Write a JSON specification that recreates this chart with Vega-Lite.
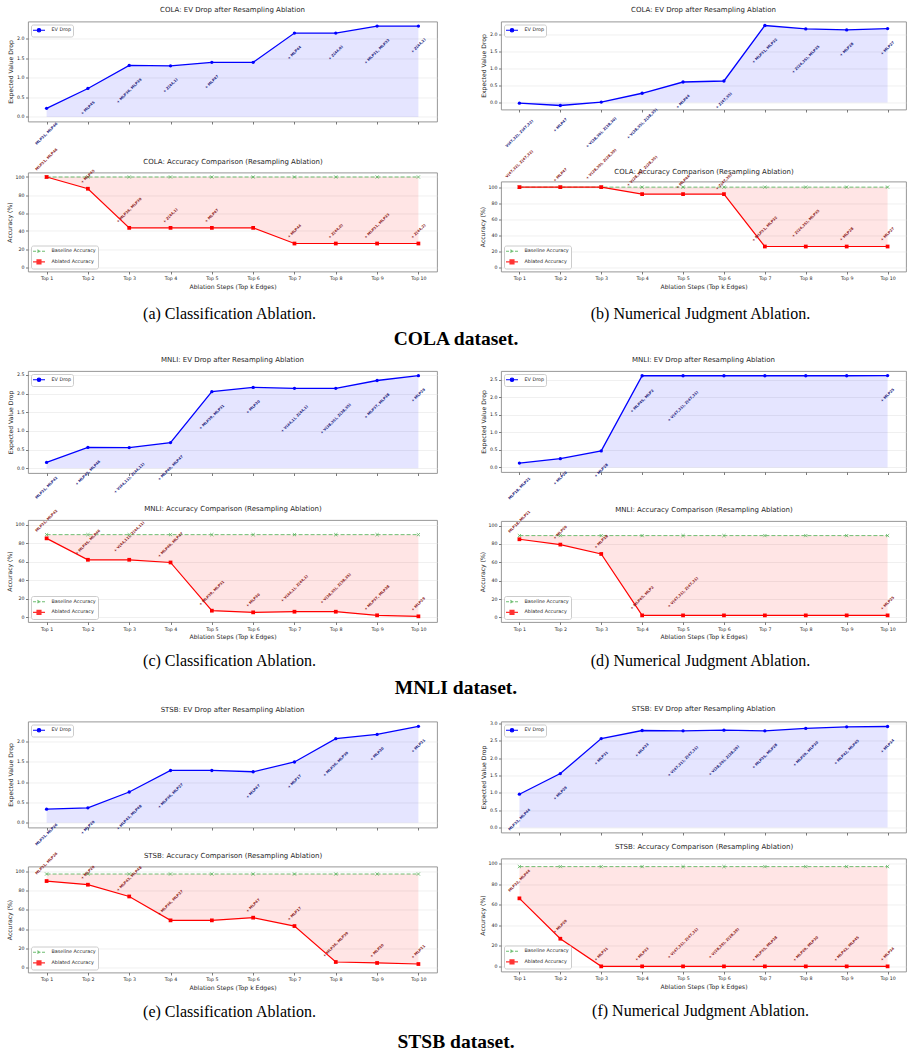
{
  "$schema": "https://vega.github.io/schema/vega-lite/v6.json",
  "background": "white",
  "padding": {"left": 5, "top": 5.5, "right": 2, "bottom": 2},
  "datasets": {
    "ablation": [
      {"d": "COLA", "t": "cls", "step": 1, "ev": 0.22, "acc": 100, "base": 100, "edge": "MLP31, MLP46"},
      {"d": "COLA", "t": "cls", "step": 2, "ev": 0.73, "acc": 86.96, "base": 100, "edge": "+ MLP45"},
      {"d": "COLA", "t": "cls", "step": 3, "ev": 1.32, "acc": 43.48, "base": 100, "edge": "+ MLP36, MLP39"},
      {"d": "COLA", "t": "cls", "step": 4, "ev": 1.31, "acc": 43.48, "base": 100, "edge": "+ Z(44,1)"},
      {"d": "COLA", "t": "cls", "step": 5, "ev": 1.4, "acc": 43.48, "base": 100, "edge": "+ MLP47"},
      {"d": "COLA", "t": "cls", "step": 6, "ev": 1.4, "acc": 43.48, "base": 100, "edge": ""},
      {"d": "COLA", "t": "cls", "step": 7, "ev": 2.15, "acc": 26.09, "base": 100, "edge": "+ MLP44"},
      {"d": "COLA", "t": "cls", "step": 8, "ev": 2.15, "acc": 26.09, "base": 100, "edge": "+ Z(44,0)"},
      {"d": "COLA", "t": "cls", "step": 9, "ev": 2.33, "acc": 26.09, "base": 100, "edge": "+ MLP31, MLP33"},
      {"d": "COLA", "t": "cls", "step": 10, "ev": 2.33, "acc": 26.09, "base": 100, "edge": "+ Z(44,2)"},
      {"d": "COLA", "t": "num", "step": 1, "ev": -0.02, "acc": 100, "base": 100, "edge": "V(47,32), Z(47,32)"},
      {"d": "COLA", "t": "num", "step": 2, "ev": -0.09, "acc": 100, "base": 100, "edge": "+ MLP47"},
      {"d": "COLA", "t": "num", "step": 3, "ev": 0.01, "acc": 100, "base": 100, "edge": "+ V(28,30), Z(28,30)"},
      {"d": "COLA", "t": "num", "step": 4, "ev": 0.27, "acc": 91.3, "base": 100, "edge": "+ V(28,35), Z(28,35)"},
      {"d": "COLA", "t": "num", "step": 5, "ev": 0.6, "acc": 91.3, "base": 100, "edge": "+ MLP44"},
      {"d": "COLA", "t": "num", "step": 6, "ev": 0.63, "acc": 91.3, "base": 100, "edge": "+ Z(47,35)"},
      {"d": "COLA", "t": "num", "step": 7, "ev": 2.26, "acc": 26.09, "base": 100, "edge": "+ MLP31, MLP32"},
      {"d": "COLA", "t": "num", "step": 8, "ev": 2.16, "acc": 26.09, "base": 100, "edge": "+ Z(24,35), MLP35"},
      {"d": "COLA", "t": "num", "step": 9, "ev": 2.13, "acc": 26.09, "base": 100, "edge": "+ MLP28"},
      {"d": "COLA", "t": "num", "step": 10, "ev": 2.17, "acc": 26.09, "base": 100, "edge": "+ MLP27"},
      {"d": "MNLI", "t": "cls", "step": 1, "ev": 0.16, "acc": 85.2, "base": 89.2, "edge": "MLP31, MLP42"},
      {"d": "MNLI", "t": "cls", "step": 2, "ev": 0.56, "acc": 62.1, "base": 89.2, "edge": "+ MLP45, MLP46"},
      {"d": "MNLI", "t": "cls", "step": 3, "ev": 0.555, "acc": 62.1, "base": 89.2, "edge": "+ V(44,11), Z(44,11)"},
      {"d": "MNLI", "t": "cls", "step": 4, "ev": 0.69, "acc": 59.2, "base": 89.2, "edge": "+ MLP40, MLP47"},
      {"d": "MNLI", "t": "cls", "step": 5, "ev": 2.05, "acc": 7.2, "base": 89.2, "edge": "+ MLP39, MLP31"},
      {"d": "MNLI", "t": "cls", "step": 6, "ev": 2.165, "acc": 5.4, "base": 89.2, "edge": "+ MLP30"},
      {"d": "MNLI", "t": "cls", "step": 7, "ev": 2.14, "acc": 6.1, "base": 89.2, "edge": "+ V(44,1), Z(44,1)"},
      {"d": "MNLI", "t": "cls", "step": 8, "ev": 2.14, "acc": 6.1, "base": 89.2, "edge": "+ V(38,35), Z(38,35)"},
      {"d": "MNLI", "t": "cls", "step": 9, "ev": 2.35, "acc": 2.2, "base": 89.2, "edge": "+ MLP37, MLP38"},
      {"d": "MNLI", "t": "cls", "step": 10, "ev": 2.48, "acc": 1.1, "base": 89.2, "edge": "+ MLP29"},
      {"d": "MNLI", "t": "num", "step": 1, "ev": 0.124, "acc": 85.1, "base": 89.1, "edge": "MLP18, MLP21"},
      {"d": "MNLI", "t": "num", "step": 2, "ev": 0.25, "acc": 79.3, "base": 89.1, "edge": "+ MLP20"},
      {"d": "MNLI", "t": "num", "step": 3, "ev": 0.47, "acc": 69.1, "base": 89.1, "edge": "+ MLP28"},
      {"d": "MNLI", "t": "num", "step": 4, "ev": 2.615, "acc": 2.2, "base": 89.1, "edge": "+ MLP45, MLP2"},
      {"d": "MNLI", "t": "num", "step": 5, "ev": 2.615, "acc": 2.2, "base": 89.1, "edge": "+ V(47,31), Z(47,31)"},
      {"d": "MNLI", "t": "num", "step": 6, "ev": 2.615, "acc": 2.2, "base": 89.1, "edge": ""},
      {"d": "MNLI", "t": "num", "step": 7, "ev": 2.615, "acc": 2.2, "base": 89.1, "edge": ""},
      {"d": "MNLI", "t": "num", "step": 8, "ev": 2.615, "acc": 2.2, "base": 89.1, "edge": ""},
      {"d": "MNLI", "t": "num", "step": 9, "ev": 2.615, "acc": 2.2, "base": 89.1, "edge": ""},
      {"d": "MNLI", "t": "num", "step": 10, "ev": 2.62, "acc": 2.2, "base": 89.1, "edge": "+ MLP25"},
      {"d": "STSB", "t": "cls", "step": 1, "ev": 0.333, "acc": 89.9, "base": 97.2, "edge": "MLP31, MLP26"},
      {"d": "STSB", "t": "cls", "step": 2, "ev": 0.367, "acc": 86.1, "base": 97.2, "edge": "+ MLP29"},
      {"d": "STSB", "t": "cls", "step": 3, "ev": 0.758, "acc": 73.9, "base": 97.2, "edge": "+ MLP43, MLP48"},
      {"d": "STSB", "t": "cls", "step": 4, "ev": 1.29, "acc": 49.1, "base": 97.2, "edge": "+ MLP36, MLP27"},
      {"d": "STSB", "t": "cls", "step": 5, "ev": 1.29, "acc": 49.1, "base": 97.2, "edge": ""},
      {"d": "STSB", "t": "cls", "step": 6, "ev": 1.258, "acc": 51.9, "base": 97.2, "edge": "+ MLP47"},
      {"d": "STSB", "t": "cls", "step": 7, "ev": 1.5, "acc": 43.2, "base": 97.2, "edge": "+ MLP17"},
      {"d": "STSB", "t": "cls", "step": 8, "ev": 2.075, "acc": 5.9, "base": 97.2, "edge": "+ MLP36, MLP39"},
      {"d": "STSB", "t": "cls", "step": 9, "ev": 2.18, "acc": 4.9, "base": 97.2, "edge": "+ MLP20"},
      {"d": "STSB", "t": "cls", "step": 10, "ev": 2.38, "acc": 3.8, "base": 97.2, "edge": "+ MLP21"},
      {"d": "STSB", "t": "num", "step": 1, "ev": 0.96, "acc": 66.2, "base": 97.1, "edge": "MLP32, MLP44"},
      {"d": "STSB", "t": "num", "step": 2, "ev": 1.556, "acc": 26.9, "base": 97.1, "edge": "+ MLP29"},
      {"d": "STSB", "t": "num", "step": 3, "ev": 2.566, "acc": 0, "base": 97.1, "edge": "+ MLP31"},
      {"d": "STSB", "t": "num", "step": 4, "ev": 2.8, "acc": 0, "base": 97.1, "edge": "+ MLP33"},
      {"d": "STSB", "t": "num", "step": 5, "ev": 2.79, "acc": 0, "base": 97.1, "edge": "+ V(47,31), Z(47,31)"},
      {"d": "STSB", "t": "num", "step": 6, "ev": 2.81, "acc": 0, "base": 97.1, "edge": "+ V(28,29), Z(28,29)"},
      {"d": "STSB", "t": "num", "step": 7, "ev": 2.79, "acc": 0, "base": 97.1, "edge": "+ MLP35, MLP28"},
      {"d": "STSB", "t": "num", "step": 8, "ev": 2.86, "acc": 0, "base": 97.1, "edge": "+ MLP29, MLP30"},
      {"d": "STSB", "t": "num", "step": 9, "ev": 2.906, "acc": 0, "base": 97.1, "edge": "+ MLP42, MLP45"},
      {"d": "STSB", "t": "num", "step": 10, "ev": 2.915, "acc": 0, "base": 97.1, "edge": "+ MLP34"}
    ]
  },
  "vconcat": [
    {
      "hconcat": [
        {
          "vconcat": [
            {
              "width": 409, "height": 100,
              "title": "COLA: EV Drop after Resampling Ablation",
              "data": {"name": "ablation"},
              "transform": [{"filter": "datum.d === 'COLA' && datum.t === 'cls'"}],
              "encoding": {
                "x": {"field": "step", "type": "quantitative", "scale": {"domain": [0.55, 10.45], "nice": false, "zero": false}, "axis": {"values": [1, 2, 3, 4, 5, 6, 7, 8, 9, 10], "labels": false, "title": "COLA: Accuracy Comparison (Resampling Ablation)", "titleFontSize": 7, "titleBaseline": "alphabetic", "titlePadding": 39.3}},
                "y": {"field": "ev", "type": "quantitative", "scale": {"domain": [-0.117, 2.447], "nice": false, "zero": false}, "axis": {"values": [0, 0.5, 1, 1.5, 2], "format": ".1f", "title": "Expected Value Drop"}}
              },
              "layer": [
                {"mark": {"type": "area", "color": "#0000ff", "opacity": 0.1}, "encoding": {"y2": {"datum": 0}}},
                {"mark": {"type": "line", "strokeWidth": 1.3}, "encoding": {"color": {"datum": "EV Drop", "scale": {"range": ["#0000ff"]}, "legend": {"title": null, "orient": "top-left", "encoding": {"symbols": {"shape": {"value": "M-2,0H2M0.58,0A0.58,0.58 0 1,1 -0.58,0A0.58,0.58 0 1,1 0.58,0"}, "fill": {"value": "#0000ff"}, "stroke": {"value": "#0000ff"}}}}}}},
                {"mark": {"type": "point", "filled": true, "size": 11, "color": "#0000ff", "opacity": 1}},
                {"transform": [{"filter": "length(datum.edge) > 0 && length(datum.edge) <= 10"}], "mark": {"type": "text", "angle": -45, "dx": -13.9, "dy": 13.9, "fontSize": 3.6, "fontWeight": "bold", "color": "#20207a"}, "encoding": {"text": {"field": "edge"}}},
                {"transform": [{"filter": "length(datum.edge) > 10 && length(datum.edge) <= 16"}], "mark": {"type": "text", "angle": -45, "dx": -18, "dy": 18, "fontSize": 3.6, "fontWeight": "bold", "color": "#20207a"}, "encoding": {"text": {"field": "edge"}}},
                {"transform": [{"filter": "length(datum.edge) > 16"}], "mark": {"type": "text", "angle": -45, "dx": -21.6, "dy": 21.6, "fontSize": 3.6, "fontWeight": "bold", "color": "#20207a"}, "encoding": {"text": {"field": "edge"}}}
              ]
            },
            {
              "width": 409, "height": 99,
              "data": {"name": "ablation"},
              "transform": [{"filter": "datum.d === 'COLA' && datum.t === 'cls'"}],
              "encoding": {
                "x": {"field": "step", "type": "quantitative", "scale": {"domain": [0.55, 10.45], "nice": false, "zero": false}, "axis": {"values": [1, 2, 3, 4, 5, 6, 7, 8, 9, 10], "labelExpr": "'Top ' + datum.value", "title": "Ablation Steps (Top k Edges)"}},
                "y": {"field": "acc", "type": "quantitative", "title": "Accuracy (%)", "scale": {"domain": [-5, 105], "nice": false, "zero": false}, "axis": {"values": [0, 20, 40, 60, 80, 100]}}
              },
              "layer": [
                {"mark": {"type": "area", "color": "#ff0000", "opacity": 0.1}, "encoding": {"y2": {"field": "base"}}},
                {"mark": {"type": "line", "strokeDash": [4, 2], "strokeWidth": 1, "opacity": 0.8}, "encoding": {"y": {"field": "base", "type": "quantitative", "title": "Accuracy (%)", "scale": {"domain": [-5, 105], "nice": false, "zero": false}}, "color": {"datum": "Baseline Accuracy", "scale": {"domain": ["Baseline Accuracy", "Ablated Accuracy"], "range": ["#4caf50", "#ff0000"]}, "legend": {"title": null, "orient": "bottom-left", "encoding": {"symbols": {"shape": {"value": {"expr": "datum.value === 'Baseline Accuracy' ? 'M-2,0H2M-0.5,-0.5L0.5,0.5M-0.5,0.5L0.5,-0.5' : 'M-2,0H2M-0.67,-0.67H0.67V0.67H-0.67Z'"}}, "fill": {"value": {"expr": "datum.value === 'Baseline Accuracy' ? 'transparent' : '#ff0000'"}}, "stroke": {"value": {"expr": "datum.value === 'Baseline Accuracy' ? '#4caf50' : '#ff0000'"}}, "strokeDash": {"value": {"expr": "datum.value === 'Baseline Accuracy' ? [3, 1.5] : [1, 0]"}}}}}}}},
                {"mark": {"type": "point", "shape": "M-1,-1L1,1M-1,1L1,-1", "size": 10, "filled": false, "strokeWidth": 0.8, "color": "#4caf50", "opacity": 0.9}, "encoding": {"y": {"field": "base", "type": "quantitative", "title": "Accuracy (%)", "scale": {"domain": [-5, 105], "nice": false, "zero": false}}}},
                {"mark": {"type": "line", "strokeWidth": 1.2}, "encoding": {"color": {"datum": "Ablated Accuracy"}}},
                {"mark": {"type": "point", "shape": "square", "filled": true, "size": 14, "color": "#ff0000", "opacity": 1}},
                {"transform": [{"filter": "length(datum.edge) > 0 && length(datum.edge) <= 10"}], "mark": {"type": "text", "angle": -45, "dx": 8.6, "dy": -8.6, "fontSize": 3.6, "fontWeight": "bold", "color": "#8b1a1a"}, "encoding": {"text": {"field": "edge"}}},
                {"transform": [{"filter": "length(datum.edge) > 10 && length(datum.edge) <= 16"}], "mark": {"type": "text", "angle": -45, "dx": 12.4, "dy": -12.4, "fontSize": 3.6, "fontWeight": "bold", "color": "#8b1a1a"}, "encoding": {"text": {"field": "edge"}}},
                {"transform": [{"filter": "length(datum.edge) > 16"}], "mark": {"type": "text", "angle": -45, "dx": 16.3, "dy": -16.3, "fontSize": 3.6, "fontWeight": "bold", "color": "#8b1a1a"}, "encoding": {"text": {"field": "edge"}}}
              ]
            }
          ],
          "spacing": 51, "bounds": "flush",
          "resolve": {"scale": {"color": "independent"}, "legend": {"color": "independent"}},
          "title": {"text": "(a) Classification Ablation.", "orient": "bottom", "frame": "bounds", "anchor": "middle", "dx": 8, "font": "Liberation Serif", "fontSize": 16, "fontWeight": "normal", "color": "#000000", "offset": 16}
        },
        {
          "vconcat": [
            {
              "width": 405, "height": 88,
              "title": "COLA: EV Drop after Resampling Ablation",
              "data": {"name": "ablation"},
              "transform": [{"filter": "datum.d === 'COLA' && datum.t === 'num'"}],
              "encoding": {
                "x": {"field": "step", "type": "quantitative", "scale": {"domain": [0.55, 10.45], "nice": false, "zero": false}, "axis": {"values": [1, 2, 3, 4, 5, 6, 7, 8, 9, 10], "labels": false, "title": "COLA: Accuracy Comparison (Resampling Ablation)", "titleFontSize": 7, "titleBaseline": "alphabetic", "titlePadding": 61.6}},
                "y": {"field": "ev", "type": "quantitative", "scale": {"domain": [-0.207, 2.377], "nice": false, "zero": false}, "axis": {"values": [0, 0.5, 1, 1.5, 2], "format": ".1f", "title": "Expected Value Drop"}}
              },
              "layer": [
                {"mark": {"type": "area", "color": "#0000ff", "opacity": 0.1}, "encoding": {"y2": {"datum": 0}}},
                {"mark": {"type": "line", "strokeWidth": 1.3}, "encoding": {"color": {"datum": "EV Drop", "scale": {"range": ["#0000ff"]}, "legend": {"title": null, "orient": "top-left", "encoding": {"symbols": {"shape": {"value": "M-2,0H2M0.58,0A0.58,0.58 0 1,1 -0.58,0A0.58,0.58 0 1,1 0.58,0"}, "fill": {"value": "#0000ff"}, "stroke": {"value": "#0000ff"}}}}}}},
                {"mark": {"type": "point", "filled": true, "size": 11, "color": "#0000ff", "opacity": 1}},
                {"transform": [{"filter": "length(datum.edge) > 0 && length(datum.edge) <= 10"}], "mark": {"type": "text", "angle": -45, "dx": -13.9, "dy": 13.9, "fontSize": 3.6, "fontWeight": "bold", "color": "#20207a"}, "encoding": {"text": {"field": "edge"}}},
                {"transform": [{"filter": "length(datum.edge) > 10 && length(datum.edge) <= 16"}], "mark": {"type": "text", "angle": -45, "dx": -18, "dy": 18, "fontSize": 3.6, "fontWeight": "bold", "color": "#20207a"}, "encoding": {"text": {"field": "edge"}}},
                {"transform": [{"filter": "length(datum.edge) > 16"}], "mark": {"type": "text", "angle": -45, "dx": -21.6, "dy": 21.6, "fontSize": 3.6, "fontWeight": "bold", "color": "#20207a"}, "encoding": {"text": {"field": "edge"}}}
              ]
            },
            {
              "width": 405, "height": 90,
              "data": {"name": "ablation"},
              "transform": [{"filter": "datum.d === 'COLA' && datum.t === 'num'"}],
              "encoding": {
                "x": {"field": "step", "type": "quantitative", "scale": {"domain": [0.55, 10.45], "nice": false, "zero": false}, "axis": {"values": [1, 2, 3, 4, 5, 6, 7, 8, 9, 10], "labelExpr": "'Top ' + datum.value", "title": "Ablation Steps (Top k Edges)"}},
                "y": {"field": "acc", "type": "quantitative", "title": "Accuracy (%)", "scale": {"domain": [-5, 107], "nice": false, "zero": false}, "axis": {"values": [0, 20, 40, 60, 80, 100]}}
              },
              "layer": [
                {"mark": {"type": "area", "color": "#ff0000", "opacity": 0.1}, "encoding": {"y2": {"field": "base"}}},
                {"mark": {"type": "line", "strokeDash": [4, 2], "strokeWidth": 1, "opacity": 0.8}, "encoding": {"y": {"field": "base", "type": "quantitative", "title": "Accuracy (%)", "scale": {"domain": [-5, 107], "nice": false, "zero": false}}, "color": {"datum": "Baseline Accuracy", "scale": {"domain": ["Baseline Accuracy", "Ablated Accuracy"], "range": ["#4caf50", "#ff0000"]}, "legend": {"title": null, "orient": "bottom-left", "encoding": {"symbols": {"shape": {"value": {"expr": "datum.value === 'Baseline Accuracy' ? 'M-2,0H2M-0.5,-0.5L0.5,0.5M-0.5,0.5L0.5,-0.5' : 'M-2,0H2M-0.67,-0.67H0.67V0.67H-0.67Z'"}}, "fill": {"value": {"expr": "datum.value === 'Baseline Accuracy' ? 'transparent' : '#ff0000'"}}, "stroke": {"value": {"expr": "datum.value === 'Baseline Accuracy' ? '#4caf50' : '#ff0000'"}}, "strokeDash": {"value": {"expr": "datum.value === 'Baseline Accuracy' ? [3, 1.5] : [1, 0]"}}}}}}}},
                {"mark": {"type": "point", "shape": "M-1,-1L1,1M-1,1L1,-1", "size": 10, "filled": false, "strokeWidth": 0.8, "color": "#4caf50", "opacity": 0.9}, "encoding": {"y": {"field": "base", "type": "quantitative", "title": "Accuracy (%)", "scale": {"domain": [-5, 107], "nice": false, "zero": false}}}},
                {"mark": {"type": "line", "strokeWidth": 1.2}, "encoding": {"color": {"datum": "Ablated Accuracy"}}},
                {"mark": {"type": "point", "shape": "square", "filled": true, "size": 14, "color": "#ff0000", "opacity": 1}},
                {"transform": [{"filter": "length(datum.edge) > 0 && length(datum.edge) <= 10"}], "mark": {"type": "text", "angle": -45, "dx": 8.6, "dy": -8.6, "fontSize": 3.6, "fontWeight": "bold", "color": "#8b1a1a"}, "encoding": {"text": {"field": "edge"}}},
                {"transform": [{"filter": "length(datum.edge) > 10 && length(datum.edge) <= 16"}], "mark": {"type": "text", "angle": -45, "dx": 12.4, "dy": -12.4, "fontSize": 3.6, "fontWeight": "bold", "color": "#8b1a1a"}, "encoding": {"text": {"field": "edge"}}},
                {"transform": [{"filter": "length(datum.edge) > 16"}], "mark": {"type": "text", "angle": -45, "dx": 16.3, "dy": -16.3, "fontSize": 3.6, "fontWeight": "bold", "color": "#8b1a1a"}, "encoding": {"text": {"field": "edge"}}}
              ]
            }
          ],
          "spacing": 72, "bounds": "flush",
          "resolve": {"scale": {"color": "independent"}, "legend": {"color": "independent"}},
          "title": {"text": "(b) Numerical Judgment Ablation.", "orient": "bottom", "frame": "bounds", "anchor": "middle", "dx": 8, "font": "Liberation Serif", "fontSize": 16, "fontWeight": "normal", "color": "#000000", "offset": 16}
        }
      ],
      "spacing": 40,
      "resolve": {"scale": {"color": "independent"}, "legend": {"color": "independent"}},
      "title": {"text": "COLA dataset.", "orient": "bottom", "frame": "bounds", "anchor": "middle", "font": "Liberation Serif", "fontSize": 19.5, "fontWeight": "bold", "color": "#000000", "offset": 8}
    },
    {
      "hconcat": [
        {
          "vconcat": [
            {
              "width": 409, "height": 102,
              "title": "MNLI: EV Drop after Resampling Ablation",
              "data": {"name": "ablation"},
              "transform": [{"filter": "datum.d === 'MNLI' && datum.t === 'cls'"}],
              "encoding": {
                "x": {"field": "step", "type": "quantitative", "scale": {"domain": [0.55, 10.45], "nice": false, "zero": false}, "axis": {"values": [1, 2, 3, 4, 5, 6, 7, 8, 9, 10], "labels": false, "title": "MNLI: Accuracy Comparison (Resampling Ablation)", "titleFontSize": 7, "titleBaseline": "alphabetic", "titlePadding": 34.3}},
                "y": {"field": "ev", "type": "quantitative", "scale": {"domain": [-0.124, 2.604], "nice": false, "zero": false}, "axis": {"values": [0, 0.5, 1, 1.5, 2, 2.5], "format": ".1f", "title": "Expected Value Drop"}}
              },
              "layer": [
                {"mark": {"type": "area", "color": "#0000ff", "opacity": 0.1}, "encoding": {"y2": {"datum": 0}}},
                {"mark": {"type": "line", "strokeWidth": 1.3}, "encoding": {"color": {"datum": "EV Drop", "scale": {"range": ["#0000ff"]}, "legend": {"title": null, "orient": "top-left", "encoding": {"symbols": {"shape": {"value": "M-2,0H2M0.58,0A0.58,0.58 0 1,1 -0.58,0A0.58,0.58 0 1,1 0.58,0"}, "fill": {"value": "#0000ff"}, "stroke": {"value": "#0000ff"}}}}}}},
                {"mark": {"type": "point", "filled": true, "size": 11, "color": "#0000ff", "opacity": 1}},
                {"transform": [{"filter": "length(datum.edge) > 0 && length(datum.edge) <= 10"}], "mark": {"type": "text", "angle": -45, "dx": -13.9, "dy": 13.9, "fontSize": 3.6, "fontWeight": "bold", "color": "#20207a"}, "encoding": {"text": {"field": "edge"}}},
                {"transform": [{"filter": "length(datum.edge) > 10 && length(datum.edge) <= 16"}], "mark": {"type": "text", "angle": -45, "dx": -18, "dy": 18, "fontSize": 3.6, "fontWeight": "bold", "color": "#20207a"}, "encoding": {"text": {"field": "edge"}}},
                {"transform": [{"filter": "length(datum.edge) > 16"}], "mark": {"type": "text", "angle": -45, "dx": -21.6, "dy": 21.6, "fontSize": 3.6, "fontWeight": "bold", "color": "#20207a"}, "encoding": {"text": {"field": "edge"}}}
              ]
            },
            {
              "width": 409, "height": 102,
              "data": {"name": "ablation"},
              "transform": [{"filter": "datum.d === 'MNLI' && datum.t === 'cls'"}],
              "encoding": {
                "x": {"field": "step", "type": "quantitative", "scale": {"domain": [0.55, 10.45], "nice": false, "zero": false}, "axis": {"values": [1, 2, 3, 4, 5, 6, 7, 8, 9, 10], "labelExpr": "'Top ' + datum.value", "title": "Ablation Steps (Top k Edges)"}},
                "y": {"field": "acc", "type": "quantitative", "title": "Accuracy (%)", "scale": {"domain": [-5, 105], "nice": false, "zero": false}, "axis": {"values": [0, 20, 40, 60, 80, 100]}}
              },
              "layer": [
                {"mark": {"type": "area", "color": "#ff0000", "opacity": 0.1}, "encoding": {"y2": {"field": "base"}}},
                {"mark": {"type": "line", "strokeDash": [4, 2], "strokeWidth": 1, "opacity": 0.8}, "encoding": {"y": {"field": "base", "type": "quantitative", "title": "Accuracy (%)", "scale": {"domain": [-5, 105], "nice": false, "zero": false}}, "color": {"datum": "Baseline Accuracy", "scale": {"domain": ["Baseline Accuracy", "Ablated Accuracy"], "range": ["#4caf50", "#ff0000"]}, "legend": {"title": null, "orient": "bottom-left", "encoding": {"symbols": {"shape": {"value": {"expr": "datum.value === 'Baseline Accuracy' ? 'M-2,0H2M-0.5,-0.5L0.5,0.5M-0.5,0.5L0.5,-0.5' : 'M-2,0H2M-0.67,-0.67H0.67V0.67H-0.67Z'"}}, "fill": {"value": {"expr": "datum.value === 'Baseline Accuracy' ? 'transparent' : '#ff0000'"}}, "stroke": {"value": {"expr": "datum.value === 'Baseline Accuracy' ? '#4caf50' : '#ff0000'"}}, "strokeDash": {"value": {"expr": "datum.value === 'Baseline Accuracy' ? [3, 1.5] : [1, 0]"}}}}}}}},
                {"mark": {"type": "point", "shape": "M-1,-1L1,1M-1,1L1,-1", "size": 10, "filled": false, "strokeWidth": 0.8, "color": "#4caf50", "opacity": 0.9}, "encoding": {"y": {"field": "base", "type": "quantitative", "title": "Accuracy (%)", "scale": {"domain": [-5, 105], "nice": false, "zero": false}}}},
                {"mark": {"type": "line", "strokeWidth": 1.2}, "encoding": {"color": {"datum": "Ablated Accuracy"}}},
                {"mark": {"type": "point", "shape": "square", "filled": true, "size": 14, "color": "#ff0000", "opacity": 1}},
                {"transform": [{"filter": "length(datum.edge) > 0 && length(datum.edge) <= 10"}], "mark": {"type": "text", "angle": -45, "dx": 8.6, "dy": -8.6, "fontSize": 3.6, "fontWeight": "bold", "color": "#8b1a1a"}, "encoding": {"text": {"field": "edge"}}},
                {"transform": [{"filter": "length(datum.edge) > 10 && length(datum.edge) <= 16"}], "mark": {"type": "text", "angle": -45, "dx": 12.4, "dy": -12.4, "fontSize": 3.6, "fontWeight": "bold", "color": "#8b1a1a"}, "encoding": {"text": {"field": "edge"}}},
                {"transform": [{"filter": "length(datum.edge) > 16"}], "mark": {"type": "text", "angle": -45, "dx": 16.3, "dy": -16.3, "fontSize": 3.6, "fontWeight": "bold", "color": "#8b1a1a"}, "encoding": {"text": {"field": "edge"}}}
              ]
            }
          ],
          "spacing": 47, "bounds": "flush",
          "resolve": {"scale": {"color": "independent"}, "legend": {"color": "independent"}},
          "title": {"text": "(c) Classification Ablation.", "orient": "bottom", "frame": "bounds", "anchor": "middle", "dx": 8, "font": "Liberation Serif", "fontSize": 16, "fontWeight": "normal", "color": "#000000", "offset": 13.2}
        },
        {
          "vconcat": [
            {
              "width": 405, "height": 101,
              "title": "MNLI: EV Drop after Resampling Ablation",
              "data": {"name": "ablation"},
              "transform": [{"filter": "datum.d === 'MNLI' && datum.t === 'num'"}],
              "encoding": {
                "x": {"field": "step", "type": "quantitative", "scale": {"domain": [0.55, 10.45], "nice": false, "zero": false}, "axis": {"values": [1, 2, 3, 4, 5, 6, 7, 8, 9, 10], "labels": false, "title": "MNLI: Accuracy Comparison (Resampling Ablation)", "titleFontSize": 7, "titleBaseline": "alphabetic", "titlePadding": 36.3}},
                "y": {"field": "ev", "type": "quantitative", "scale": {"domain": [-0.131, 2.75], "nice": false, "zero": false}, "axis": {"values": [0, 0.5, 1, 1.5, 2, 2.5], "format": ".1f", "title": "Expected Value Drop"}}
              },
              "layer": [
                {"mark": {"type": "area", "color": "#0000ff", "opacity": 0.1}, "encoding": {"y2": {"datum": 0}}},
                {"mark": {"type": "line", "strokeWidth": 1.3}, "encoding": {"color": {"datum": "EV Drop", "scale": {"range": ["#0000ff"]}, "legend": {"title": null, "orient": "top-left", "encoding": {"symbols": {"shape": {"value": "M-2,0H2M0.58,0A0.58,0.58 0 1,1 -0.58,0A0.58,0.58 0 1,1 0.58,0"}, "fill": {"value": "#0000ff"}, "stroke": {"value": "#0000ff"}}}}}}},
                {"mark": {"type": "point", "filled": true, "size": 11, "color": "#0000ff", "opacity": 1}},
                {"transform": [{"filter": "length(datum.edge) > 0 && length(datum.edge) <= 10"}], "mark": {"type": "text", "angle": -45, "dx": -13.9, "dy": 13.9, "fontSize": 3.6, "fontWeight": "bold", "color": "#20207a"}, "encoding": {"text": {"field": "edge"}}},
                {"transform": [{"filter": "length(datum.edge) > 10 && length(datum.edge) <= 16"}], "mark": {"type": "text", "angle": -45, "dx": -18, "dy": 18, "fontSize": 3.6, "fontWeight": "bold", "color": "#20207a"}, "encoding": {"text": {"field": "edge"}}},
                {"transform": [{"filter": "length(datum.edge) > 16"}], "mark": {"type": "text", "angle": -45, "dx": -21.6, "dy": 21.6, "fontSize": 3.6, "fontWeight": "bold", "color": "#20207a"}, "encoding": {"text": {"field": "edge"}}}
              ]
            },
            {
              "width": 405, "height": 101,
              "data": {"name": "ablation"},
              "transform": [{"filter": "datum.d === 'MNLI' && datum.t === 'num'"}],
              "encoding": {
                "x": {"field": "step", "type": "quantitative", "scale": {"domain": [0.55, 10.45], "nice": false, "zero": false}, "axis": {"values": [1, 2, 3, 4, 5, 6, 7, 8, 9, 10], "labelExpr": "'Top ' + datum.value", "title": "Ablation Steps (Top k Edges)"}},
                "y": {"field": "acc", "type": "quantitative", "title": "Accuracy (%)", "scale": {"domain": [-5, 105], "nice": false, "zero": false}, "axis": {"values": [0, 20, 40, 60, 80, 100]}}
              },
              "layer": [
                {"mark": {"type": "area", "color": "#ff0000", "opacity": 0.1}, "encoding": {"y2": {"field": "base"}}},
                {"mark": {"type": "line", "strokeDash": [4, 2], "strokeWidth": 1, "opacity": 0.8}, "encoding": {"y": {"field": "base", "type": "quantitative", "title": "Accuracy (%)", "scale": {"domain": [-5, 105], "nice": false, "zero": false}}, "color": {"datum": "Baseline Accuracy", "scale": {"domain": ["Baseline Accuracy", "Ablated Accuracy"], "range": ["#4caf50", "#ff0000"]}, "legend": {"title": null, "orient": "bottom-left", "encoding": {"symbols": {"shape": {"value": {"expr": "datum.value === 'Baseline Accuracy' ? 'M-2,0H2M-0.5,-0.5L0.5,0.5M-0.5,0.5L0.5,-0.5' : 'M-2,0H2M-0.67,-0.67H0.67V0.67H-0.67Z'"}}, "fill": {"value": {"expr": "datum.value === 'Baseline Accuracy' ? 'transparent' : '#ff0000'"}}, "stroke": {"value": {"expr": "datum.value === 'Baseline Accuracy' ? '#4caf50' : '#ff0000'"}}, "strokeDash": {"value": {"expr": "datum.value === 'Baseline Accuracy' ? [3, 1.5] : [1, 0]"}}}}}}}},
                {"mark": {"type": "point", "shape": "M-1,-1L1,1M-1,1L1,-1", "size": 10, "filled": false, "strokeWidth": 0.8, "color": "#4caf50", "opacity": 0.9}, "encoding": {"y": {"field": "base", "type": "quantitative", "title": "Accuracy (%)", "scale": {"domain": [-5, 105], "nice": false, "zero": false}}}},
                {"mark": {"type": "line", "strokeWidth": 1.2}, "encoding": {"color": {"datum": "Ablated Accuracy"}}},
                {"mark": {"type": "point", "shape": "square", "filled": true, "size": 14, "color": "#ff0000", "opacity": 1}},
                {"transform": [{"filter": "length(datum.edge) > 0 && length(datum.edge) <= 10"}], "mark": {"type": "text", "angle": -45, "dx": 8.6, "dy": -8.6, "fontSize": 3.6, "fontWeight": "bold", "color": "#8b1a1a"}, "encoding": {"text": {"field": "edge"}}},
                {"transform": [{"filter": "length(datum.edge) > 10 && length(datum.edge) <= 16"}], "mark": {"type": "text", "angle": -45, "dx": 12.4, "dy": -12.4, "fontSize": 3.6, "fontWeight": "bold", "color": "#8b1a1a"}, "encoding": {"text": {"field": "edge"}}},
                {"transform": [{"filter": "length(datum.edge) > 16"}], "mark": {"type": "text", "angle": -45, "dx": 16.3, "dy": -16.3, "fontSize": 3.6, "fontWeight": "bold", "color": "#8b1a1a"}, "encoding": {"text": {"field": "edge"}}}
              ]
            }
          ],
          "spacing": 49, "bounds": "flush",
          "resolve": {"scale": {"color": "independent"}, "legend": {"color": "independent"}},
          "title": {"text": "(d) Numerical Judgment Ablation.", "orient": "bottom", "frame": "bounds", "anchor": "middle", "dx": 8, "font": "Liberation Serif", "fontSize": 16, "fontWeight": "normal", "color": "#000000", "offset": 13.2}
        }
      ],
      "spacing": 40,
      "resolve": {"scale": {"color": "independent"}, "legend": {"color": "independent"}},
      "title": {"text": "MNLI dataset.", "orient": "bottom", "frame": "bounds", "anchor": "middle", "font": "Liberation Serif", "fontSize": 19.5, "fontWeight": "bold", "color": "#000000", "offset": 10}
    },
    {
      "hconcat": [
        {
          "vconcat": [
            {
              "width": 409, "height": 106,
              "title": "STSB: EV Drop after Resampling Ablation",
              "data": {"name": "ablation"},
              "transform": [{"filter": "datum.d === 'STSB' && datum.t === 'cls'"}],
              "encoding": {
                "x": {"field": "step", "type": "quantitative", "scale": {"domain": [0.55, 10.45], "nice": false, "zero": false}, "axis": {"values": [1, 2, 3, 4, 5, 6, 7, 8, 9, 10], "labels": false, "title": "STSB: Accuracy Comparison (Resampling Ablation)", "titleFontSize": 7, "titleBaseline": "alphabetic", "titlePadding": 26.7}},
                "y": {"field": "ev", "type": "quantitative", "scale": {"domain": [-0.119, 2.5], "nice": false, "zero": false}, "axis": {"values": [0, 0.5, 1, 1.5, 2], "format": ".1f", "title": "Expected Value Drop"}}
              },
              "layer": [
                {"mark": {"type": "area", "color": "#0000ff", "opacity": 0.1}, "encoding": {"y2": {"datum": 0}}},
                {"mark": {"type": "line", "strokeWidth": 1.3}, "encoding": {"color": {"datum": "EV Drop", "scale": {"range": ["#0000ff"]}, "legend": {"title": null, "orient": "top-left", "encoding": {"symbols": {"shape": {"value": "M-2,0H2M0.58,0A0.58,0.58 0 1,1 -0.58,0A0.58,0.58 0 1,1 0.58,0"}, "fill": {"value": "#0000ff"}, "stroke": {"value": "#0000ff"}}}}}}},
                {"mark": {"type": "point", "filled": true, "size": 11, "color": "#0000ff", "opacity": 1}},
                {"transform": [{"filter": "length(datum.edge) > 0 && length(datum.edge) <= 10"}], "mark": {"type": "text", "angle": -45, "dx": -13.9, "dy": 13.9, "fontSize": 3.6, "fontWeight": "bold", "color": "#20207a"}, "encoding": {"text": {"field": "edge"}}},
                {"transform": [{"filter": "length(datum.edge) > 10 && length(datum.edge) <= 16"}], "mark": {"type": "text", "angle": -45, "dx": -18, "dy": 18, "fontSize": 3.6, "fontWeight": "bold", "color": "#20207a"}, "encoding": {"text": {"field": "edge"}}},
                {"transform": [{"filter": "length(datum.edge) > 16"}], "mark": {"type": "text", "angle": -45, "dx": -21.6, "dy": 21.6, "fontSize": 3.6, "fontWeight": "bold", "color": "#20207a"}, "encoding": {"text": {"field": "edge"}}}
              ]
            },
            {
              "width": 409, "height": 106,
              "data": {"name": "ablation"},
              "transform": [{"filter": "datum.d === 'STSB' && datum.t === 'cls'"}],
              "encoding": {
                "x": {"field": "step", "type": "quantitative", "scale": {"domain": [0.55, 10.45], "nice": false, "zero": false}, "axis": {"values": [1, 2, 3, 4, 5, 6, 7, 8, 9, 10], "labelExpr": "'Top ' + datum.value", "title": "Ablation Steps (Top k Edges)"}},
                "y": {"field": "acc", "type": "quantitative", "title": "Accuracy (%)", "scale": {"domain": [-5, 105], "nice": false, "zero": false}, "axis": {"values": [0, 20, 40, 60, 80, 100]}}
              },
              "layer": [
                {"mark": {"type": "area", "color": "#ff0000", "opacity": 0.1}, "encoding": {"y2": {"field": "base"}}},
                {"mark": {"type": "line", "strokeDash": [4, 2], "strokeWidth": 1, "opacity": 0.8}, "encoding": {"y": {"field": "base", "type": "quantitative", "title": "Accuracy (%)", "scale": {"domain": [-5, 105], "nice": false, "zero": false}}, "color": {"datum": "Baseline Accuracy", "scale": {"domain": ["Baseline Accuracy", "Ablated Accuracy"], "range": ["#4caf50", "#ff0000"]}, "legend": {"title": null, "orient": "bottom-left", "encoding": {"symbols": {"shape": {"value": {"expr": "datum.value === 'Baseline Accuracy' ? 'M-2,0H2M-0.5,-0.5L0.5,0.5M-0.5,0.5L0.5,-0.5' : 'M-2,0H2M-0.67,-0.67H0.67V0.67H-0.67Z'"}}, "fill": {"value": {"expr": "datum.value === 'Baseline Accuracy' ? 'transparent' : '#ff0000'"}}, "stroke": {"value": {"expr": "datum.value === 'Baseline Accuracy' ? '#4caf50' : '#ff0000'"}}, "strokeDash": {"value": {"expr": "datum.value === 'Baseline Accuracy' ? [3, 1.5] : [1, 0]"}}}}}}}},
                {"mark": {"type": "point", "shape": "M-1,-1L1,1M-1,1L1,-1", "size": 10, "filled": false, "strokeWidth": 0.8, "color": "#4caf50", "opacity": 0.9}, "encoding": {"y": {"field": "base", "type": "quantitative", "title": "Accuracy (%)", "scale": {"domain": [-5, 105], "nice": false, "zero": false}}}},
                {"mark": {"type": "line", "strokeWidth": 1.2}, "encoding": {"color": {"datum": "Ablated Accuracy"}}},
                {"mark": {"type": "point", "shape": "square", "filled": true, "size": 14, "color": "#ff0000", "opacity": 1}},
                {"transform": [{"filter": "length(datum.edge) > 0 && length(datum.edge) <= 10"}], "mark": {"type": "text", "angle": -45, "dx": 8.6, "dy": -8.6, "fontSize": 3.6, "fontWeight": "bold", "color": "#8b1a1a"}, "encoding": {"text": {"field": "edge"}}},
                {"transform": [{"filter": "length(datum.edge) > 10 && length(datum.edge) <= 16"}], "mark": {"type": "text", "angle": -45, "dx": 12.4, "dy": -12.4, "fontSize": 3.6, "fontWeight": "bold", "color": "#8b1a1a"}, "encoding": {"text": {"field": "edge"}}},
                {"transform": [{"filter": "length(datum.edge) > 16"}], "mark": {"type": "text", "angle": -45, "dx": 16.3, "dy": -16.3, "fontSize": 3.6, "fontWeight": "bold", "color": "#8b1a1a"}, "encoding": {"text": {"field": "edge"}}}
              ]
            }
          ],
          "spacing": 39, "bounds": "flush",
          "resolve": {"scale": {"color": "independent"}, "legend": {"color": "independent"}},
          "title": {"text": "(e) Classification Ablation.", "orient": "bottom", "frame": "bounds", "anchor": "middle", "dx": 8, "font": "Liberation Serif", "fontSize": 16, "fontWeight": "normal", "color": "#000000", "offset": 12.8}
        },
        {
          "vconcat": [
            {
              "width": 405, "height": 111,
              "title": "STSB: EV Drop after Resampling Ablation",
              "data": {"name": "ablation"},
              "transform": [{"filter": "datum.d === 'STSB' && datum.t === 'num'"}],
              "encoding": {
                "x": {"field": "step", "type": "quantitative", "scale": {"domain": [0.55, 10.45], "nice": false, "zero": false}, "axis": {"values": [1, 2, 3, 4, 5, 6, 7, 8, 9, 10], "labels": false, "title": "STSB: Accuracy Comparison (Resampling Ablation)", "titleFontSize": 7, "titleBaseline": "alphabetic", "titlePadding": 12.7}},
                "y": {"field": "ev", "type": "quantitative", "scale": {"domain": [-0.146, 3.06], "nice": false, "zero": false}, "axis": {"values": [0, 0.5, 1, 1.5, 2, 2.5, 3], "format": ".1f", "title": "Expected Value Drop"}}
              },
              "layer": [
                {"mark": {"type": "area", "color": "#0000ff", "opacity": 0.1}, "encoding": {"y2": {"datum": 0}}},
                {"mark": {"type": "line", "strokeWidth": 1.3}, "encoding": {"color": {"datum": "EV Drop", "scale": {"range": ["#0000ff"]}, "legend": {"title": null, "orient": "top-left", "encoding": {"symbols": {"shape": {"value": "M-2,0H2M0.58,0A0.58,0.58 0 1,1 -0.58,0A0.58,0.58 0 1,1 0.58,0"}, "fill": {"value": "#0000ff"}, "stroke": {"value": "#0000ff"}}}}}}},
                {"mark": {"type": "point", "filled": true, "size": 11, "color": "#0000ff", "opacity": 1}},
                {"transform": [{"filter": "length(datum.edge) > 0 && length(datum.edge) <= 10"}], "mark": {"type": "text", "angle": -45, "dx": -13.9, "dy": 13.9, "fontSize": 3.6, "fontWeight": "bold", "color": "#20207a"}, "encoding": {"text": {"field": "edge"}}},
                {"transform": [{"filter": "length(datum.edge) > 10 && length(datum.edge) <= 16"}], "mark": {"type": "text", "angle": -45, "dx": -18, "dy": 18, "fontSize": 3.6, "fontWeight": "bold", "color": "#20207a"}, "encoding": {"text": {"field": "edge"}}},
                {"transform": [{"filter": "length(datum.edge) > 16"}], "mark": {"type": "text", "angle": -45, "dx": -21.6, "dy": 21.6, "fontSize": 3.6, "fontWeight": "bold", "color": "#20207a"}, "encoding": {"text": {"field": "edge"}}}
              ]
            },
            {
              "width": 405, "height": 113,
              "data": {"name": "ablation"},
              "transform": [{"filter": "datum.d === 'STSB' && datum.t === 'num'"}],
              "encoding": {
                "x": {"field": "step", "type": "quantitative", "scale": {"domain": [0.55, 10.45], "nice": false, "zero": false}, "axis": {"values": [1, 2, 3, 4, 5, 6, 7, 8, 9, 10], "labelExpr": "'Top ' + datum.value", "title": "Ablation Steps (Top k Edges)"}},
                "y": {"field": "acc", "type": "quantitative", "title": "Accuracy (%)", "scale": {"domain": [-5, 105], "nice": false, "zero": false}, "axis": {"values": [0, 20, 40, 60, 80, 100]}}
              },
              "layer": [
                {"mark": {"type": "area", "color": "#ff0000", "opacity": 0.1}, "encoding": {"y2": {"field": "base"}}},
                {"mark": {"type": "line", "strokeDash": [4, 2], "strokeWidth": 1, "opacity": 0.8}, "encoding": {"y": {"field": "base", "type": "quantitative", "title": "Accuracy (%)", "scale": {"domain": [-5, 105], "nice": false, "zero": false}}, "color": {"datum": "Baseline Accuracy", "scale": {"domain": ["Baseline Accuracy", "Ablated Accuracy"], "range": ["#4caf50", "#ff0000"]}, "legend": {"title": null, "orient": "bottom-left", "encoding": {"symbols": {"shape": {"value": {"expr": "datum.value === 'Baseline Accuracy' ? 'M-2,0H2M-0.5,-0.5L0.5,0.5M-0.5,0.5L0.5,-0.5' : 'M-2,0H2M-0.67,-0.67H0.67V0.67H-0.67Z'"}}, "fill": {"value": {"expr": "datum.value === 'Baseline Accuracy' ? 'transparent' : '#ff0000'"}}, "stroke": {"value": {"expr": "datum.value === 'Baseline Accuracy' ? '#4caf50' : '#ff0000'"}}, "strokeDash": {"value": {"expr": "datum.value === 'Baseline Accuracy' ? [3, 1.5] : [1, 0]"}}}}}}}},
                {"mark": {"type": "point", "shape": "M-1,-1L1,1M-1,1L1,-1", "size": 10, "filled": false, "strokeWidth": 0.8, "color": "#4caf50", "opacity": 0.9}, "encoding": {"y": {"field": "base", "type": "quantitative", "title": "Accuracy (%)", "scale": {"domain": [-5, 105], "nice": false, "zero": false}}}},
                {"mark": {"type": "line", "strokeWidth": 1.2}, "encoding": {"color": {"datum": "Ablated Accuracy"}}},
                {"mark": {"type": "point", "shape": "square", "filled": true, "size": 14, "color": "#ff0000", "opacity": 1}},
                {"transform": [{"filter": "length(datum.edge) > 0 && length(datum.edge) <= 10"}], "mark": {"type": "text", "angle": -45, "dx": 8.6, "dy": -8.6, "fontSize": 3.6, "fontWeight": "bold", "color": "#8b1a1a"}, "encoding": {"text": {"field": "edge"}}},
                {"transform": [{"filter": "length(datum.edge) > 10 && length(datum.edge) <= 16"}], "mark": {"type": "text", "angle": -45, "dx": 12.4, "dy": -12.4, "fontSize": 3.6, "fontWeight": "bold", "color": "#8b1a1a"}, "encoding": {"text": {"field": "edge"}}},
                {"transform": [{"filter": "length(datum.edge) > 16"}], "mark": {"type": "text", "angle": -45, "dx": 16.3, "dy": -16.3, "fontSize": 3.6, "fontWeight": "bold", "color": "#8b1a1a"}, "encoding": {"text": {"field": "edge"}}}
              ]
            }
          ],
          "spacing": 26, "bounds": "flush",
          "resolve": {"scale": {"color": "independent"}, "legend": {"color": "independent"}},
          "title": {"text": "(f) Numerical Judgment Ablation.", "orient": "bottom", "frame": "bounds", "anchor": "middle", "dx": 8, "font": "Liberation Serif", "fontSize": 16, "fontWeight": "normal", "color": "#000000", "offset": 12.8}
        }
      ],
      "spacing": 40,
      "resolve": {"scale": {"color": "independent"}, "legend": {"color": "independent"}},
      "title": {"text": "STSB dataset.", "orient": "bottom", "frame": "bounds", "anchor": "middle", "font": "Liberation Serif", "fontSize": 19.5, "fontWeight": "bold", "color": "#000000", "offset": 13}
    }
  ],
  "spacing": 6.5,
  "resolve": {"scale": {"color": "independent"}, "legend": {"color": "independent"}},
  "config": {
    "font": "DejaVu Sans",
    "view": {"stroke": "#8c8c8c", "strokeWidth": 0.9},
    "axis": {"labelFontSize": 4.7, "titleFontSize": 6.1, "labelColor": "#262626", "titleColor": "#262626", "titleFontWeight": "normal", "tickSize": 2.5, "tickColor": "#444444", "tickWidth": 0.7, "domain": false, "labelPadding": 1.5, "titlePadding": 3},
    "axisY": {"grid": true, "gridColor": "#e6e6e6", "gridWidth": 0.6},
    "axisX": {"grid": false},
    "title": {"fontSize": 7, "fontWeight": "normal", "color": "#262626", "offset": 8.5, "frame": "group"},
    "legend": {"labelFontSize": 4.85, "labelColor": "#262626", "padding": 1.7, "rowPadding": 1.7, "fillColor": "white", "strokeColor": "#cccccc", "cornerRadius": 2, "labelOffset": 8.5, "symbolOffset": 2.3, "offset": 3, "symbolSize": 36, "symbolStrokeWidth": 1.1}
  }
}
